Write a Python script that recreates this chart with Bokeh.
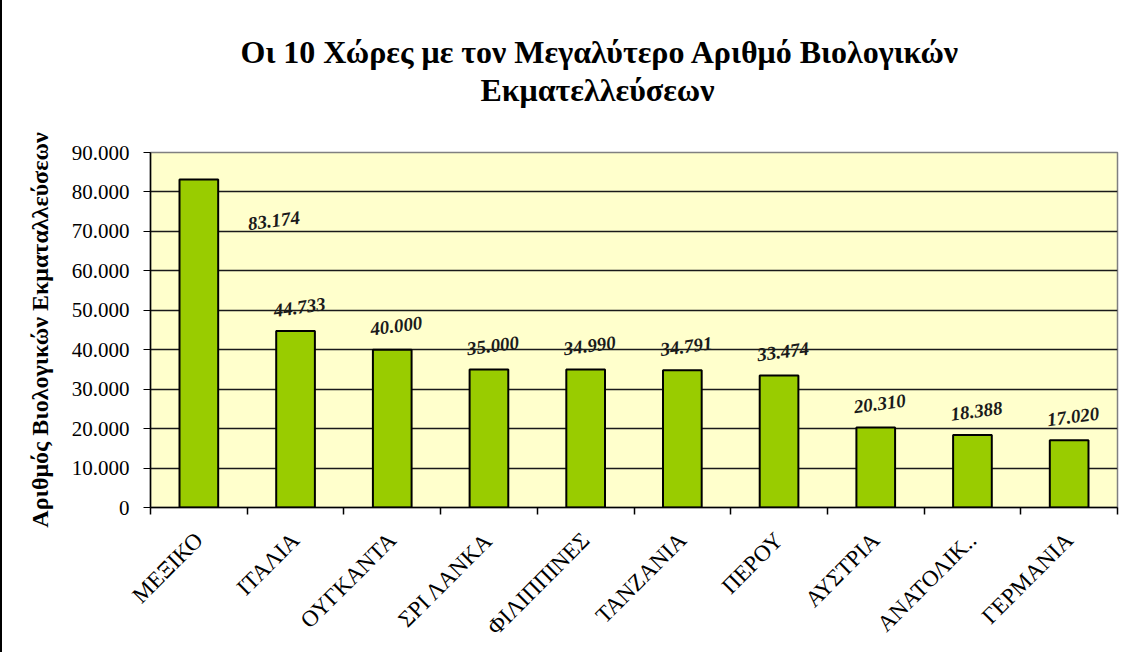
from math import pi
from bokeh.plotting import figure
from bokeh.models import (ColumnDataSource, FixedTicker, CustomJSTickFormatter,
                          LabelSet, Range1d, Title)
from bokeh.embed import file_html
from bokeh.resources import INLINE

# ---- data ----
countries = ["ΜΕΞΙΚΟ", "ΙΤΑΛΙΑ", "ΟΥΓΚΑΝΤΑ", "ΣΡΙ ΛΑΝΚΑ", "ΦΙΛΙΠΠΙΝΕΣ",
             "ΤΑΝΖΑΝΙΑ", "ΠΕΡΟΥ", "ΑΥΣΤΡΙΑ", "ΑΝΑΤΟΛΙΚ..", "ΓΕΡΜΑΝΙΑ"]
farms = [83174, 44733, 40000, 35000, 34990, 34791, 33474, 20310, 18388, 17020]
y_ticks = [0, 10000, 20000, 30000, 40000, 50000, 60000, 70000, 80000, 90000]

title_lines = ["Οι 10 Χώρες με τον Μεγαλύτερο Αριθμό Βιολογικών", "Εκματελλεύσεων"]
y_label = "Αριθμός Βιολογικών Εκματαλλεύσεων"

SERIF = "Liberation Serif"
n = len(countries)
xc = [i + 0.5 for i in range(n)]
labs = [f"{v:,}".replace(",", ".") for v in farms]
# label offsets (styling): first label sits inside, to the right of the bar
xo = [75] + [4] * (n - 1)
yo = [-41] + [24] * (n - 1)

src = ColumnDataSource(dict(x=xc, v=farms, lab=labs, xo=xo, yo=yo))

p = figure(width=1132, height=652, x_range=Range1d(0, n), y_range=Range1d(0, 90000),
           output_backend="svg", toolbar_location=None,
           min_border_left=148, min_border_right=17, min_border_top=152, min_border_bottom=145)
p.styles = {"border-left-width": "2px", "border-left-style": "solid",
            "border-left-color": "black"}
p.background_fill_color = "#FFFFCC"
p.border_fill_color = "white"
p.outline_line_color = "#808080"
p.outline_line_width = 1.5

p.vbar(x="x", top="v", width=0.4, source=src, fill_color="#99CC00",
       line_color="black", line_width=2)

# axes
p.xgrid.visible = False
p.ygrid.grid_line_color = "#1a1a1a"
p.ygrid.grid_line_width = 1.3
p.yaxis.ticker = FixedTicker(ticks=y_ticks)
p.yaxis.formatter = CustomJSTickFormatter(
    code="return Math.round(tick).toString().replace(/\\B(?=(\\d{3})+(?!\\d))/g, '.');")
p.yaxis.major_tick_out = 7
p.yaxis.major_tick_in = 0
p.yaxis.minor_tick_line_color = None
p.yaxis.major_label_standoff = 14
p.yaxis.major_label_text_font = SERIF
p.yaxis.major_label_text_font_size = "21px"
p.yaxis.major_label_text_color = "black"
p.yaxis.axis_line_color = "black"
p.yaxis.axis_line_width = 1.5
p.yaxis.axis_label = y_label
p.yaxis.axis_label_text_font = SERIF
p.yaxis.axis_label_text_font_size = "24px"
p.yaxis.axis_label_text_font_style = "bold"
p.yaxis.axis_label_text_color = "black"
p.yaxis.axis_label_standoff = 16

p.xaxis.ticker = FixedTicker(ticks=xc, minor_ticks=list(range(n + 1)))
p.xaxis.formatter = CustomJSTickFormatter(args=dict(names=countries),
                                          code="return names[Math.floor(tick)];")
p.xaxis.major_tick_out = 0
p.xaxis.major_tick_in = 0
p.xaxis.minor_tick_out = 7
p.xaxis.minor_tick_in = 0
p.xaxis.minor_tick_line_color = "black"
p.xaxis.minor_tick_line_width = 1.5
p.xaxis.major_label_orientation = pi / 4
p.xaxis.major_label_standoff = 22
p.xaxis.major_label_text_font = SERIF
p.xaxis.major_label_text_font_size = "23px"
p.xaxis.major_label_text_color = "black"
p.xaxis.axis_line_color = "black"
p.xaxis.axis_line_width = 1.5

labels = LabelSet(x="x", y="v", text="lab", x_offset="xo", y_offset="yo", source=src,
                  angle=0.13, text_align="center", text_baseline="middle",
                  text_font=SERIF, text_font_size="19px", text_font_style="bold italic",
                  text_color="#1a1a1a")
p.add_layout(labels)

# title (two lines) with a spacer between title and plot frame
spacer = Title(text=" ", text_font_size="1px", standoff=42)
t2 = Title(text=title_lines[1], align="left", offset=330, standoff=0,
           text_font=SERIF, text_font_size="32px", text_font_style="bold", text_color="black")
t1 = Title(text=title_lines[0], align="left", offset=90, standoff=0,
           text_font=SERIF, text_font_size="32px", text_font_style="bold", text_color="black")
p.add_layout(spacer, "above")
p.add_layout(t2, "above")
p.add_layout(t1, "above")

open("out.html", "w").write(file_html(p, INLINE))
